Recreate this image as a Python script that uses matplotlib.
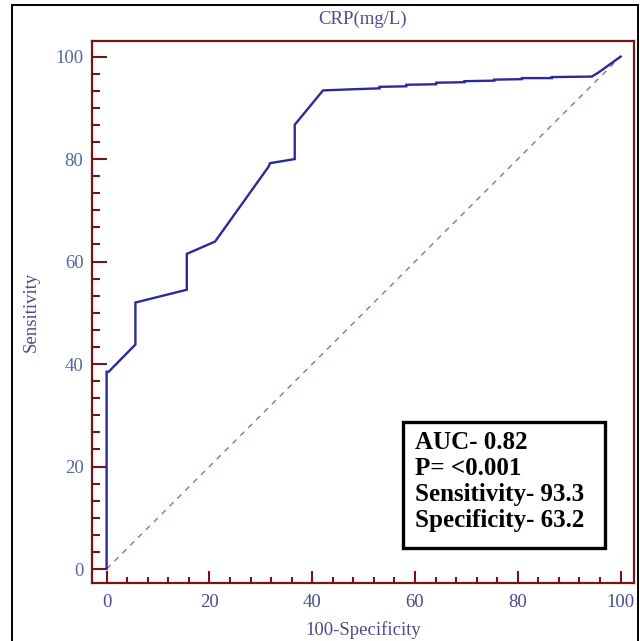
import matplotlib.pyplot as plt
from matplotlib.patches import Rectangle
from matplotlib.ticker import MultipleLocator

# ROC curve (100-Specificity, Sensitivity)
fpr = [0, 0, 0.4, 5.6, 5.6, 15.6, 15.6, 21.1, 31.5, 31.8, 36.6, 36.6, 42.1,
       47.3, 53.1, 53.1, 58.3, 58.3, 64.1, 64.1, 69.6, 69.6, 75.4, 75.4,
       80.8, 80.8, 86.6, 86.6, 94.4, 95.7, 100]
tpr = [0, 38.5, 38.5, 43.8, 52.0, 54.5, 61.5, 63.9, 78.5, 79.2, 80.0, 86.7, 93.4,
       93.6, 93.8, 94.1, 94.2, 94.5, 94.6, 94.9, 95.0, 95.2, 95.3, 95.5,
       95.6, 95.8, 95.8, 96.0, 96.1, 96.9, 100]
ref_line = [0, 100]
stats = ["AUC- 0.82", "P= <0.001", "Sensitivity- 93.3", "Specificity- 63.2"]

maroon = "#7a1414"
serif = ["Liberation Serif", "DejaVu Serif"]

fig = plt.figure(figsize=(6.4, 6.41), dpi=100)
ax = fig.add_axes([0.1433, 0.0905, 0.8473, 0.846])

ax.plot(ref_line, ref_line, color="#a07070", lw=1.0, ls=(0, (4, 4)))
ax.plot(fpr, tpr, color="#2a2a9a", lw=1.7, solid_joinstyle="miter")

ax.set_xlim(-2.9, 102.6)
ax.set_ylim(-2.73, 103.1)
ax.xaxis.set_major_locator(MultipleLocator(20))
ax.xaxis.set_minor_locator(MultipleLocator(4))
ax.yaxis.set_major_locator(MultipleLocator(20))
ax.yaxis.set_minor_locator(MultipleLocator(20 / 6))

for s in ax.spines.values():
    s.set_color(maroon)
    s.set_linewidth(1.6)
ax.tick_params(which="both", direction="in", color=maroon, width=1.5,
               top=False, right=False)
ax.tick_params(axis="x", which="major", length=8.5, pad=8)
ax.tick_params(axis="x", which="minor", length=4.5)
ax.tick_params(axis="y", which="major", length=10.5, pad=6)
ax.tick_params(axis="y", which="minor", length=5.5)

for lab in ax.get_xticklabels():
    lab.set_fontfamily(serif)
    lab.set_fontsize(13.5)
    lab.set_color("#4b4b8b")
for lab in ax.get_yticklabels():
    lab.set_fontfamily(serif)
    lab.set_fontsize(13.5)
    lab.set_color("#55679e")

ax.set_xlabel("100-Specificity", family=serif, fontsize=13.5, color="#4b4b8b", labelpad=7)
ax.set_ylabel("Sensitivity", family=serif, fontsize=13.5, color="#4b4b8b", labelpad=11)
ax.set_title("CRP(mg/L)", family=serif, fontsize=13.5, color="#4b4b8b", pad=12)

# stats box
ax.add_patch(Rectangle((57.7, 4.1), 39.2, 24.6, fc="white", ec="black",
                       lw=2.4, zorder=3))
ax.text(60.0, 27.0, "\n".join(stats), family=serif, fontsize=18, fontweight="bold",
        va="top", ha="left", linespacing=1.17, color="black", zorder=4)

# outer frame around the figure
fig.patches.append(Rectangle((12 / 640, -0.02), 626 / 640, 1.02 - 5 / 641,
                             transform=fig.transFigure, fill=False,
                             ec="black", lw=1.4))

fig.savefig("out.png", dpi=100)
